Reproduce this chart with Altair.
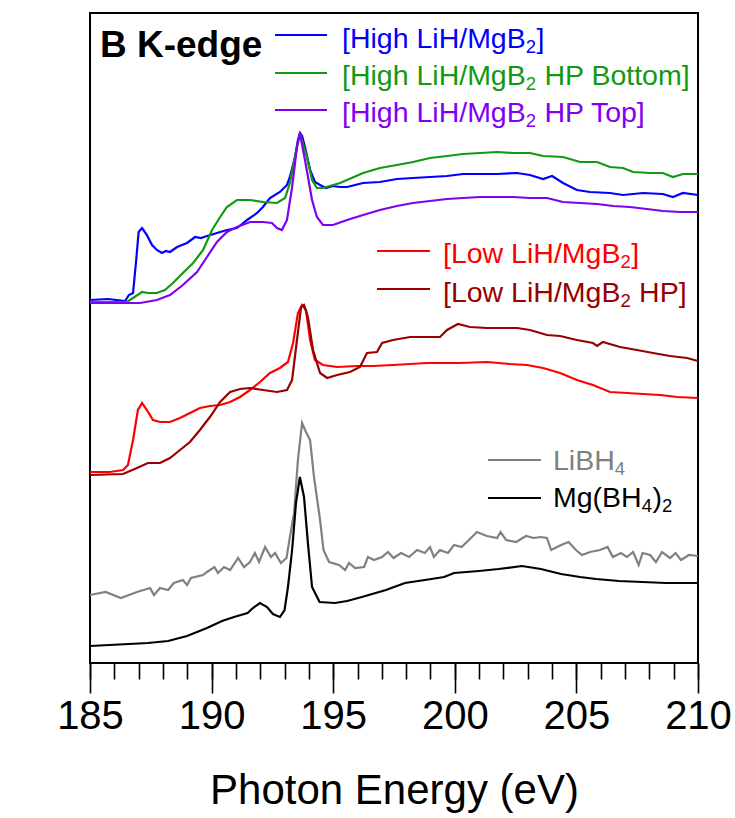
import altair as alt
import pandas as pd

# ---------------- data ----------------
# Photon energy (eV) and TFY (arbitrary units, vertically offset spectra)
E_high = [185.00, 185.74, 186.44, 186.60, 186.77, 186.90, 187.00, 187.14, 187.34, 187.55, 187.75, 187.96, 188.12,
          188.29, 188.58, 188.78, 188.99, 189.32, 189.56, 189.81, 190.22, 190.63, 191.04, 191.25, 191.46, 191.87,
          192.11, 192.40, 192.81, 193.10, 193.22, 193.43, 193.55, 193.64, 193.72, 193.84, 194.05, 194.25, 194.46,
          194.70, 194.99, 195.28, 195.57, 196.23, 196.92, 197.62, 198.28, 198.98, 199.68, 200.34, 201.04, 201.74,
          202.56, 203.09, 203.63, 204.00, 204.45, 205.02, 205.56, 206.38, 206.92, 207.74, 208.55, 208.97, 209.38,
          210.00]
Y_high = [363, 364, 362, 368, 370, 403, 431, 435, 428, 418, 413, 410, 412, 411, 416, 418, 420, 426, 425, 427, 430,
          433, 435, 439, 443, 450, 456, 465, 471, 478, 486, 506, 523, 530, 527, 516, 493, 481, 478, 475, 477, 476,
          476, 480, 481, 484, 485, 486, 487, 489, 489, 489, 490, 488, 484, 487, 480, 473, 471, 470, 468, 470, 469,
          466, 470, 468]

E_bottom = [185.00, 186.52, 186.77, 187.14, 187.38, 187.75, 188.08, 188.41, 188.82, 189.24, 189.65, 190.02, 190.35,
            190.63, 191.04, 191.58, 192.11, 192.69, 193.02, 193.22, 193.43, 193.63, 193.92, 194.13, 194.33, 194.58,
            195.28, 196.23, 196.92, 197.62, 198.28, 198.98, 199.68, 200.34, 201.04, 201.74, 202.39, 203.09, 203.63,
            204.45, 205.15, 205.85, 206.38, 206.92, 207.33, 208.03, 208.55, 208.97, 209.38, 210.00]
Y_bottom = [361, 361, 365, 371, 370, 370, 373, 380, 390, 400, 413, 433, 446, 456, 463, 463, 461, 460, 465, 480, 506,
            530, 506, 483, 475, 475, 480, 490, 495, 498, 501, 505, 507, 509, 510, 511, 510, 510, 507, 506, 501, 501,
            496, 495, 491, 490, 490, 486, 489, 489]

E_top = [185.00, 186.36, 187.06, 187.75, 188.29, 188.82, 189.40, 189.81, 190.22, 190.63, 191.04, 191.58, 192.11,
         192.48, 192.69, 192.89, 193.10, 193.31, 193.51, 193.63, 193.84, 194.13, 194.33, 194.58, 194.99, 195.57,
         196.23, 196.92, 197.62, 198.28, 198.98, 199.68, 200.34, 201.04, 201.74, 202.39, 203.09, 203.79, 204.45,
         205.15, 205.85, 206.51, 207.20, 207.90, 208.56, 209.26, 210.00]
Y_top = [360, 360, 360, 363, 368, 378, 391, 406, 421, 431, 436, 441, 441, 440, 435, 433, 443, 476, 516, 530, 503,
         463, 446, 438, 438, 443, 448, 453, 457, 460, 462, 464, 465, 466, 466, 466, 465, 465, 461, 460, 459, 457,
         456, 454, 452, 451, 451]

E_low = [185.00, 185.82, 186.36, 186.56, 186.77, 186.97, 187.14, 187.34, 187.59, 187.88, 188.29, 188.70, 189.11,
         189.52, 189.93, 190.35, 190.76, 191.17, 191.58, 191.99, 192.40, 192.81, 193.14, 193.35, 193.55, 193.72,
         193.88, 194.05, 194.25, 194.58, 195.16, 195.98, 196.64, 197.46, 198.86, 200.21, 201.32, 202.27, 202.97,
         203.63, 204.33, 205.02, 205.68, 206.38, 207.08, 207.74, 208.44, 209.14, 210.00]
Y_low = [191, 191, 193, 198, 223, 253, 260, 253, 243, 241, 241, 245, 250, 255, 257, 258, 261, 266, 273, 281, 290,
         295, 301, 320, 350, 358, 353, 323, 303, 298, 296, 297, 297, 298, 300, 300, 301, 299, 298, 295, 290, 283,
         278, 271, 270, 269, 268, 266, 265]

E_low_hp = [185.00, 186.36, 186.93, 187.38, 187.88, 188.29, 188.70, 189.11, 189.52, 189.93, 190.35, 190.76, 191.17,
            191.58, 192.11, 192.69, 193.10, 193.31, 193.51, 193.68, 193.80, 193.96, 194.17, 194.46, 194.75, 195.16,
            195.69, 196.10, 196.39, 196.80, 197.01, 197.46, 198.16, 198.86, 199.39, 199.68, 200.13, 200.62, 201.32,
            201.86, 202.56, 203.09, 203.79, 204.33, 205.02, 205.68, 205.85, 206.09, 206.79, 207.49, 208.15, 208.85,
            209.55, 210.00]
Y_low_hp = [188, 189, 195, 200, 200, 205, 213, 221, 233, 246, 261, 271, 274, 275, 273, 271, 273, 283, 323, 356, 358,
            346, 313, 290, 285, 288, 291, 296, 310, 311, 320, 323, 326, 326, 326, 333, 339, 336, 335, 335, 335, 333,
            328, 327, 323, 320, 317, 321, 316, 313, 310, 307, 305, 302]

E_libh4 = [185.00, 185.64, 186.27, 186.93, 187.47, 187.63, 187.88, 188.21, 188.45, 188.82, 188.99, 189.15, 189.65,
           189.81, 190.12, 190.26, 190.51, 190.76, 191.09, 191.33, 191.58, 191.78, 191.95, 192.20, 192.44, 192.61,
           192.85, 193.08, 193.22, 193.39, 193.55, 193.72, 193.88, 194.05, 194.21, 194.46, 194.60, 194.83, 195.24,
           195.49, 195.65, 195.90, 196.27, 196.43, 196.68, 197.01, 197.25, 197.48, 197.79, 198.12, 198.45, 198.77,
           198.98, 199.14, 199.39, 199.72, 199.97, 200.28, 200.58, 200.91, 201.32, 201.74, 201.88, 202.11, 202.52,
           202.93, 203.24, 203.54, 203.79, 203.96, 204.37, 204.68, 204.98, 205.23, 205.56, 205.97, 206.28, 206.50,
           206.83, 207.08, 207.33, 207.56, 207.72, 208.03, 208.27, 208.52, 208.85, 209.08, 209.30, 209.63, 210.00]
Y_libh4 = [68, 71, 65, 71, 75, 68, 75, 73, 80, 83, 78, 85, 88, 91, 96, 90, 96, 93, 105, 96, 101, 110, 101, 116, 106,
           110, 100, 105, 126, 150, 203, 240, 231, 223, 186, 143, 113, 101, 98, 93, 100, 95, 96, 106, 103, 106, 111,
           105, 110, 106, 113, 110, 116, 106, 113, 110, 118, 116, 123, 131, 127, 125, 131, 123, 121, 127, 125, 126,
           125, 113, 118, 121, 113, 108, 111, 113, 116, 106, 110, 106, 111, 98, 110, 108, 101, 111, 105, 110, 103,
           108, 107]

E_mgbh4 = [185.00, 186.60, 187.38, 188.21, 188.99, 189.81, 190.43, 190.92, 191.48, 191.70, 191.99, 192.28, 192.52,
           192.81, 193.00, 193.14, 193.31, 193.47, 193.63, 193.80, 193.96, 194.13, 194.44, 195.07, 195.57, 196.18,
           197.17, 197.95, 198.77, 199.56, 199.97, 200.99, 201.80, 202.76, 203.54, 204.37, 205.15, 205.81, 206.75,
           207.72, 208.68, 210.00]
Y_mgbh4 = [17, 19, 20, 22, 27, 35, 42, 46, 50, 55, 60, 56, 49, 46, 53, 76, 113, 160, 186, 166, 120, 76, 61, 60, 62,
           66, 73, 80, 83, 86, 90, 92, 94, 97, 94, 89, 86, 84, 82, 81, 80, 80]

series_names = ["High LiH/MgB2", "High LiH/MgB2 HP Bottom", "High LiH/MgB2 HP Top",
                "Low LiH/MgB2", "Low LiH/MgB2 HP", "LiBH4", "Mg(BH4)2"]
series_colors = ["#0000ff", "#119a11", "#8000f0", "#ff0000", "#990000", "#808080", "#000000"]
series_x = [E_high, E_bottom, E_top, E_low, E_low_hp, E_libh4, E_mgbh4]
series_y = [Y_high, Y_bottom, Y_top, Y_low, Y_low_hp, Y_libh4, Y_mgbh4]

major_ticks = [185, 190, 195, 200, 205, 210]
minor_ticks = list(range(185, 211))

FONT = "Liberation Sans"
PLOT_LEFT, PLOT_TOP = 90, 13   # padding in front of the plot area

frames = []
for k, (name, col, xs, ys) in enumerate(zip(series_names, series_colors, series_x, series_y)):
    assert len(xs) == len(ys), name
    frames.append(pd.DataFrame({"E": xs, "TFY": ys, "series": name, "col": col,
                                "idx": range(len(xs)), "z": k}))
df = pd.concat(frames, ignore_index=True)

x_scale = alt.Scale(domain=[185, 210], nice=False, zero=False)
y_scale = alt.Scale(domain=[0, 650], nice=False, zero=False)

minor_axis = alt.Axis(
    orient="bottom", values=minor_ticks, labels=False, tickSize=16, tickColor="black", tickWidth=1.6,
    domain=False, grid=False, title=None,
)
major_axis = alt.Axis(
    orient="bottom", values=major_ticks, tickSize=30, tickColor="black", tickWidth=1.6, domain=False,
    grid=False, labelFont=FONT, labelFontSize=40, labelColor="black", labelPadding=3,
    labelFlush=False, labelOverlap=False, labelBound=False,
    title="Photon Energy (eV)", titleFont=FONT, titleFontSize=42, titleFontWeight="normal",
    titleColor="black", titlePadding=34,
)
y_axis = alt.Axis(
    labels=False, ticks=False, domain=False, grid=False,
    title="TFY", titleFont=FONT, titleFontSize=44, titleFontWeight="normal",
    titleColor="black", titlePadding=26,
)

lines = alt.Chart(df).mark_line(strokeWidth=2.2).encode(
    x=alt.X("E:Q", scale=x_scale, axis=minor_axis),
    y=alt.Y("TFY:Q", scale=y_scale, axis=y_axis),
    stroke=alt.Stroke("col:N", scale=None),
    detail="series:N",
    order="idx:Q",
)

# invisible layer that only carries the labelled major-tick axis
major = alt.Chart(df).mark_point(opacity=0, size=1).encode(
    x=alt.X("E:Q", scale=x_scale, axis=major_axis),
    y=alt.Y("TFY:Q", scale=y_scale, axis=None),
)

# ---------------- in-plot legend (text with subscripts) ----------------
ADV = {' ': 278, '[': 278, ']': 278, '(': 333, ')': 333, '/': 278, 'H': 722, 'i': 222,
       'g': 556, 'h': 556, 'L': 556, 'M': 833, 'B': 667, 'P': 667, 'o': 556, 't': 278, 'm': 833, 'T': 611,
       'p': 556, 'w': 722, '2': 556, '4': 556}


def text_width(s, size):
    return sum(ADV.get(c, 556) for c in s) / 1000.0 * size


MAIN, SUB, SHIFT = 28.5, 18.5, 5
dummy = pd.DataFrame({"a": [0]})
layers = [lines, major]

legend_items = [
    # segments, color, text x, baseline y, rule x0, rule x1, rule y  (page pixels)
    ([("[High LiH/MgB", 0), ("2", 1), ("]", 0)], series_colors[0], 342, 48, 275, 327, 35),
    ([("[High LiH/MgB", 0), ("2", 1), (" HP Bottom]", 0)], series_colors[1], 342, 85, 275, 327, 73),
    ([("[High LiH/MgB", 0), ("2", 1), (" HP Top]", 0)], series_colors[2], 342, 122, 275, 327, 110),
    ([("[Low LiH/MgB", 0), ("2", 1), ("]", 0)], series_colors[3], 443, 263, 377, 430, 251),
    ([("[Low LiH/MgB", 0), ("2", 1), (" HP]", 0)], series_colors[4], 443, 302, 377, 430, 289),
    ([("LiBH", 0), ("4", 1)], series_colors[5], 553, 470, 488, 541, 460),
    ([("Mg(BH", 0), ("4", 1), (")", 0), ("2", 1)], series_colors[6], 553, 507, 488, 541, 498),
]

for segs, col, tx, ty, rx0, rx1, ry in legend_items:
    layers.append(alt.Chart(dummy).mark_rule(color=col, strokeWidth=2).encode(
        x=alt.value(rx0 - PLOT_LEFT), x2=alt.value(rx1 - PLOT_LEFT), y=alt.value(ry - PLOT_TOP)))
    cx = tx
    for s, is_sub in segs:
        size = SUB if is_sub else MAIN
        yy = ty + SHIFT if is_sub else ty
        lead = len(s) - len(s.lstrip(" "))
        body = s.lstrip(" ")
        x_here = cx + text_width(" " * lead, size)
        layers.append(alt.Chart(dummy).mark_text(
            text=body, font=FONT, fontSize=size, color=col, align="left", baseline="alphabetic"
        ).encode(x=alt.value(x_here - PLOT_LEFT), y=alt.value(yy - PLOT_TOP)))
        cx += text_width(s, size) + (0.5 if is_sub else 0)

layers.append(alt.Chart(dummy).mark_text(
    text="B K-edge", font=FONT, fontSize=37, fontWeight="bold", color="black",
    align="left", baseline="alphabetic").encode(x=alt.value(100 - PLOT_LEFT), y=alt.value(57 - PLOT_TOP)))

chart = alt.layer(*layers).resolve_axis(x="independent").properties(
    width=608, height=650,
    padding={"left": PLOT_LEFT, "top": PLOT_TOP, "right": 37, "bottom": 155},
    autosize=alt.AutoSizeParams(type="none"),
    background="white",
).configure_view(stroke="black", strokeWidth=2)

chart.save("out.html", embed_options={"renderer": "svg", "actions": False})
